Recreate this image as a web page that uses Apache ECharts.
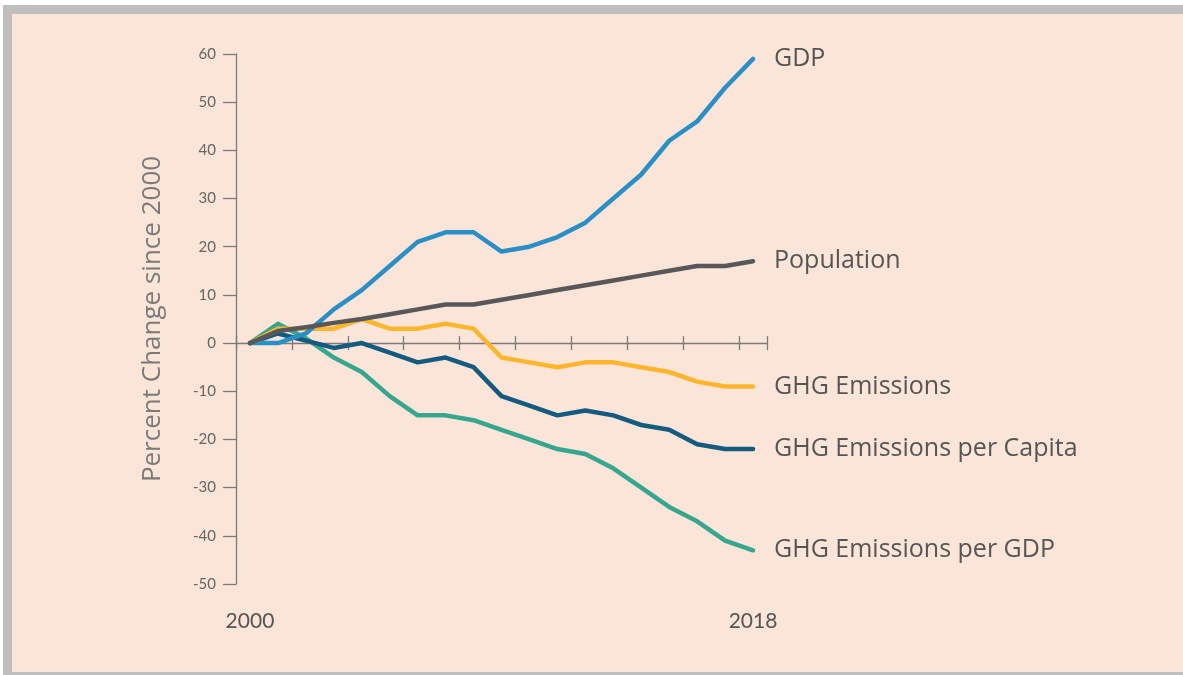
<!DOCTYPE html>
<html>
<head>
<meta charset="utf-8">
<script src="https://cdn.jsdelivr.net/npm/echarts@6/dist/echarts.min.js"></script>
<style>
  html, body { margin: 0; padding: 0; background: #ffffff; }
  #frame { position: absolute; left: 3px; top: 5px; width: 1180px; height: 670px; background: #bfbfbf; }
  #paper { position: absolute; left: 12px; top: 14px; width: 1171px; height: 658px; background: #fbe5d8; }
  #chart { position: absolute; left: 0; top: 0; width: 1183px; height: 675px; }
</style>
</head>
<body>
<div id="frame"></div>
<div id="paper"></div>
<div id="chart"></div>
<script>
const years = ['2000','2001','2002','2003','2004','2005','2006','2007','2008','2009','2010','2011','2012','2013','2014','2015','2016','2017','2018'];
const shownYearLabels = ['2000', '2018'];
const yTicks = { min: -50, max: 60, interval: 10 };

const gdp          = [0, 0, 2, 7, 11, 16, 21, 23, 23, 19, 20, 22, 25, 30, 35, 42, 46, 53, 59];
const population   = [0, 2.5, 3.3, 4.2, 5, 6, 7, 8, 8, 9, 10, 11, 12, 13, 14, 15, 16, 16, 17];
const ghg          = [0, 3, 3, 3, 5, 3, 3, 4, 3, -3, -4, -5, -4, -4, -5, -6, -8, -9, -9];
const ghgPerCapita = [0, 2, 0.5, -1, 0, -2, -4, -3, -5, -11, -13, -15, -14, -15, -17, -18, -21, -22, -22];
const ghgPerGdp    = [0, 4, 1, -3, -6, -11, -15, -15, -16, -18, -20, -22, -23, -26, -30, -34, -37, -41, -43];

const FONT = 'Lato, "Open Sans", sans-serif';
const WIDE_FONT = '"Open Sans", Lato, sans-serif';
const axisColor = '#7a7a7a';

function lineSeries(name, data, color) {
  return {
    name: name,
    type: 'line',
    xAxisIndex: 0,
    yAxisIndex: 0,
    data: data,
    symbol: 'none',
    smooth: false,
    lineStyle: { color: color, width: 4.5, cap: 'round', join: 'round' },
    itemStyle: { color: color },
    emphasis: { disabled: true },
    endLabel: {
      show: true,
      formatter: '{a}',
      distance: 21,
      color: '#555555',
      fontSize: 25,
      fontFamily: WIDE_FONT
    }
  };
}

const chart = echarts.init(document.getElementById('chart'), null, { renderer: 'canvas' });
chart.setOption({
  backgroundColor: 'transparent',
  animation: false,
  grid: { left: 236, right: 416, top: 54, bottom: 91, containLabel: false, outerBoundsMode: 'none' },
  xAxis: [
    {
      type: 'category', data: years, boundaryGap: true, position: 'bottom',
      axisLine: { show: true, onZero: true, onZeroAxisIndex: 0, lineStyle: { color: axisColor, width: 1.3 } },
      axisTick: { show: true, length: 7, lineStyle: { color: axisColor, width: 1.3 } },
      axisLabel: { show: false },
      splitLine: { show: false }
    },
    {
      type: 'category', data: years, boundaryGap: true, position: 'top',
      axisLine: { show: false, onZero: true, onZeroAxisIndex: 0 },
      axisTick: { show: true, length: 7, lineStyle: { color: axisColor, width: 1.3 } },
      axisLabel: { show: false },
      splitLine: { show: false }
    },
    {
      type: 'category', data: years, boundaryGap: true, position: 'bottom',
      axisLine: { show: false, onZero: false },
      axisTick: { show: false },
      axisLabel: {
        show: true,
        interval: function (idx, val) { return shownYearLabels.indexOf(val) >= 0; },
        margin: 27,
        color: '#555555',
        fontSize: 21,
        fontFamily: FONT
      },
      splitLine: { show: false }
    }
  ],
  yAxis: {
    type: 'value',
    min: yTicks.min, max: yTicks.max, interval: yTicks.interval,
    name: 'Percent Change since 2000',
    nameLocation: 'middle',
    nameGap: 70,
    nameRotate: 90,
    nameTextStyle: { color: '#7a7a7a', fontSize: 26, fontFamily: WIDE_FONT },
    axisLine: { show: true, onZero: false, lineStyle: { color: axisColor, width: 1.3 } },
    axisTick: { show: true, length: 13, lineStyle: { color: axisColor, width: 1.3 } },
    axisLabel: { margin: 20, color: '#666666', fontSize: 15, fontFamily: FONT },
    splitLine: { show: false }
  },
  series: [
    lineSeries('GHG Emissions per GDP', ghgPerGdp, '#37a68f'),
    lineSeries('GHG Emissions per Capita', ghgPerCapita, '#155b80'),
    lineSeries('GHG Emissions', ghg, '#fdb62b'),
    lineSeries('GDP', gdp, '#2a8fc7'),
    lineSeries('Population', population, '#58585a')
  ]
});
</script>
</body>
</html>
